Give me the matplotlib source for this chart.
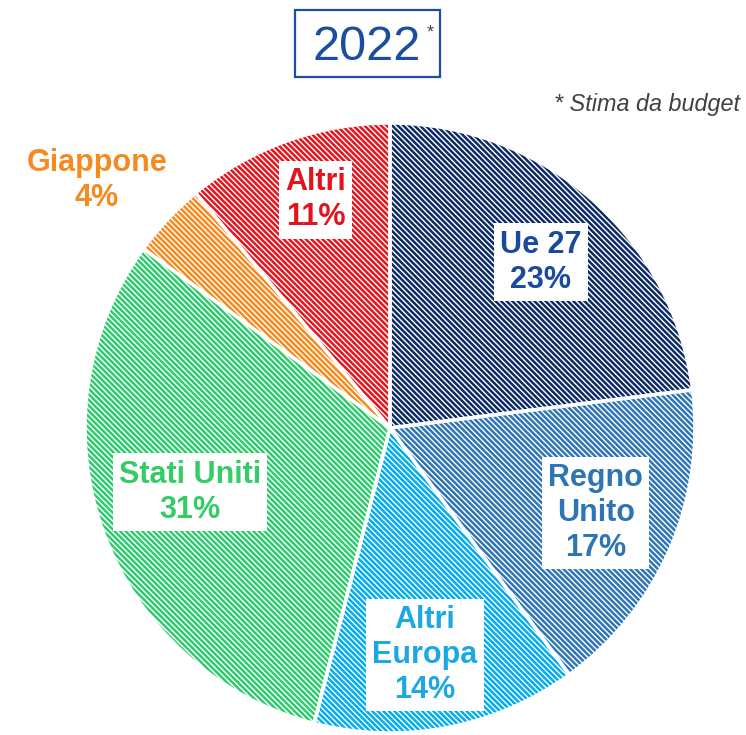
import matplotlib
matplotlib.use("Agg")
import matplotlib.pyplot as plt
from matplotlib.patches import Rectangle

categories = ["Ue 27", "Regno Unito", "Altri Europa", "Stati Uniti", "Giappone", "Altri"]
values = [23, 17, 14, 31, 4, 11]
label_texts = ["Ue 27\n23%", "Regno\nUnito\n17%", "Altri\nEuropa\n14%",
               "Stati Uniti\n31%", "Giappone\n4%", "Altri\n11%"]
hatch_colors = ["#0B2A66", "#2E75B6", "#00AEEF", "#2DCB6E", "#F58A1F", "#E8131B"]
text_colors = ["#1A4A9C", "#2E75B6", "#1CA8E3", "#33CC66", "#F58A1F", "#E3141C"]
label_pos = [(0.495, 0.544), (0.675, -0.279), (0.115, -0.744),
             (-0.656, -0.21), (-0.961, 0.813), (-0.243, 0.748)]
boxed = [True, True, True, True, False, True]

plt.rcParams['font.family'] = ['Liberation Sans', 'DejaVu Sans']
plt.rcParams['hatch.linewidth'] = 1.8

fig = plt.figure(figsize=(7.46, 7.35), dpi=100)
ax = fig.add_axes([85/746, 2/735, 610/746, 610/735])

wedges, _ = ax.pie(values, startangle=90, counterclock=False, radius=1,
                   colors=["white"] * len(values),
                   wedgeprops=dict(linewidth=0))
for w, c in zip(wedges, hatch_colors):
    w.set_hatch("\\" * 6)
    w.set_edgecolor(c)
    w.set_linewidth(0)

# white separators
ax.pie(values, startangle=90, counterclock=False, radius=1,
       wedgeprops=dict(fill=False, edgecolor="white", linewidth=2.5))

for txt, col, (x, y), b in zip(label_texts, text_colors, label_pos, boxed):
    kw = dict(ha="center", va="center", fontsize=22, fontweight="bold",
              color=col, linespacing=1.22, zorder=5)
    if b:
        kw["bbox"] = dict(boxstyle="square,pad=0.2", facecolor="white", edgecolor="none")
    ax.text(x, y, txt, **kw)

ax.set_xlim(-1, 1)
ax.set_ylim(-1, 1)
ax.set_aspect("equal")
ax.axis("off")

# Title box
fig.patches.append(Rectangle((295/746, 1 - 77/735), 145/746, 67/735,
                             transform=fig.transFigure, facecolor="white",
                             edgecolor="#1B4DA0", linewidth=1.6))
fig.text(367/746, 1 - 48/735, "2022", ha="center", va="center", fontsize=35,
         color="#1B4DA0")
fig.text(430/746, 1 - 33/735, "*", ha="center", va="center", fontsize=13, color="#444444")

fig.text(740/746, 1 - 104/735, "* Stima da budget", ha="right", va="center",
         fontsize=16.8, style="italic", color="#404040")

fig.savefig("out.png", dpi=100)
